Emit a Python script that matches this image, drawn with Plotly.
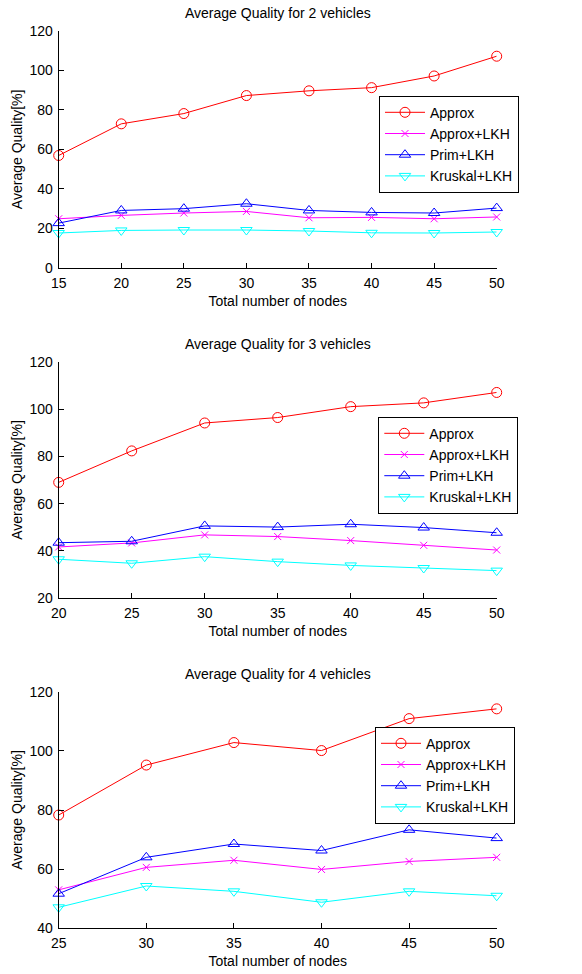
import plotly.graph_objects as go

# ---------- data ----------
series_names = ["Approx", "Approx+LKH", "Prim+LKH", "Kruskal+LKH"]

nodes_2 = [15, 20, 25, 30, 35, 40, 45, 50]
approx_2 = [56.9, 72.9, 78.1, 87.2, 89.6, 91.2, 97.1, 107.1]
approx_lkh_2 = [24.9, 26.6, 27.8, 28.6, 25.4, 25.6, 24.9, 25.8]
prim_lkh_2 = [22.7, 29.1, 30.0, 32.5, 29.1, 28.1, 27.8, 30.3]
kruskal_lkh_2 = [17.7, 19.0, 19.2, 19.2, 18.7, 17.8, 17.7, 18.2]

nodes_3 = [20, 25, 30, 35, 40, 45, 50]
approx_3 = [69.0, 82.3, 94.1, 96.4, 101.0, 102.6, 107.0]
approx_lkh_3 = [41.7, 43.4, 46.8, 46.1, 44.4, 42.4, 40.4]
prim_lkh_3 = [43.5, 44.1, 50.6, 50.1, 51.3, 49.9, 47.7]
kruskal_lkh_3 = [36.5, 34.8, 37.6, 35.5, 33.9, 32.8, 31.7]

nodes_4 = [25, 30, 35, 40, 45, 50]
approx_4 = [78.3, 95.2, 102.8, 100.1, 110.9, 114.2]
approx_lkh_4 = [53.0, 60.6, 63.0, 59.9, 62.6, 64.0]
prim_lkh_4 = [51.7, 64.0, 68.5, 66.3, 73.3, 70.5]
kruskal_lkh_4 = [47.1, 54.3, 52.5, 48.8, 52.5, 51.0]

titles = ["Average Quality for 2 vehicles",
          "Average Quality for 3 vehicles",
          "Average Quality for 4 vehicles"]
x_label = "Total number of nodes"
y_label = "Average Quality[%]"

panels = [
    (nodes_2, [approx_2, approx_lkh_2, prim_lkh_2, kruskal_lkh_2], [0, 120]),
    (nodes_3, [approx_3, approx_lkh_3, prim_lkh_3, kruskal_lkh_3], [20, 120]),
    (nodes_4, [approx_4, approx_lkh_4, prim_lkh_4, kruskal_lkh_4], [40, 120]),
]

# ---------- styles ----------
colors = ["#FF0000", "#FF00FF", "#0000FF", "#00FFFF"]
symbols = ["circle-open", "x-thin-open", "triangle-up-open", "triangle-down-open"]
msizes = [10, 7, 10, 10]

W, H = 582, 974
FONT = "Liberation Sans, Arial, Helvetica, sans-serif"

x_dom = [58.7 / W, 496.7 / W]
y_px = [(30.7, 268.0), (361.7, 598.3), (691.7, 928.3)]
title_px = [13.5, 343.5, 673.5]
legend_px = [(379.0, 95.7), (378.3, 416.7), (375.0, 726.7)]

fig = go.Figure()
layout = dict(
    width=W, height=H, margin=dict(l=0, r=0, t=0, b=0),
    paper_bgcolor="white", plot_bgcolor="white",
    font=dict(family=FONT, size=13, color="black"),
    annotations=[],
)

for i, (xs, ys_list, yr) in enumerate(panels):
    n = "" if i == 0 else str(i + 1)
    leg = "legend" if i == 0 else f"legend{i + 1}"
    for j, ys in enumerate(ys_list):
        fig.add_trace(go.Scatter(
            x=xs, y=ys, name=series_names[j], mode="lines+markers",
            line=dict(color=colors[j], width=1),
            marker=dict(symbol=symbols[j], size=msizes[j], color=colors[j],
                        line=dict(color=colors[j], width=1)),
            xaxis="x" + n, yaxis="y" + n, legend=leg, cliponaxis=False,
        ))
    top, bot = y_px[i]
    layout["xaxis" + n] = dict(
        domain=x_dom, anchor="y" + n, range=[xs[0], xs[-1]],
        tickmode="array", tickvals=xs, ticks="inside", ticklen=5,
        tickcolor="black", showline=True, linecolor="black", linewidth=1,
        showgrid=False, zeroline=False, tickfont=dict(size=14),
        automargin=False, ticklabelstandoff=2,
        title=dict(text=x_label, font=dict(size=14), standoff=6),
    )
    layout["yaxis" + n] = dict(
        domain=[1 - bot / H, 1 - top / H], anchor="x" + n, range=yr,
        dtick=20, ticks="inside", ticklen=5, tickcolor="black",
        showline=True, linecolor="black", linewidth=1,
        showgrid=False, zeroline=False, tickfont=dict(size=14),
        automargin=False, ticklabelstandoff=2,
        title=dict(text=y_label, font=dict(size=14), standoff=3),
    )
    lx, ly = legend_px[i]
    layout[leg] = dict(
        x=lx / W, y=1 - ly / H, xanchor="left", yanchor="top",
        bordercolor="black", borderwidth=1, bgcolor="white",
        font=dict(size=14), tracegroupgap=0, itemwidth=40,
    )
    layout["annotations"].append(dict(
        text=titles[i], xref="paper", yref="paper",
        x=(x_dom[0] + x_dom[1]) / 2, y=1 - title_px[i] / H,
        xanchor="center", yanchor="middle", showarrow=False,
        font=dict(size=14),
    ))

fig.update_layout(**layout)
fig.write_html(
    "out.html",
    config={"displayModeBar": False},
    post_script="document.body.style.margin='0px';document.body.style.padding='0px';",
)
